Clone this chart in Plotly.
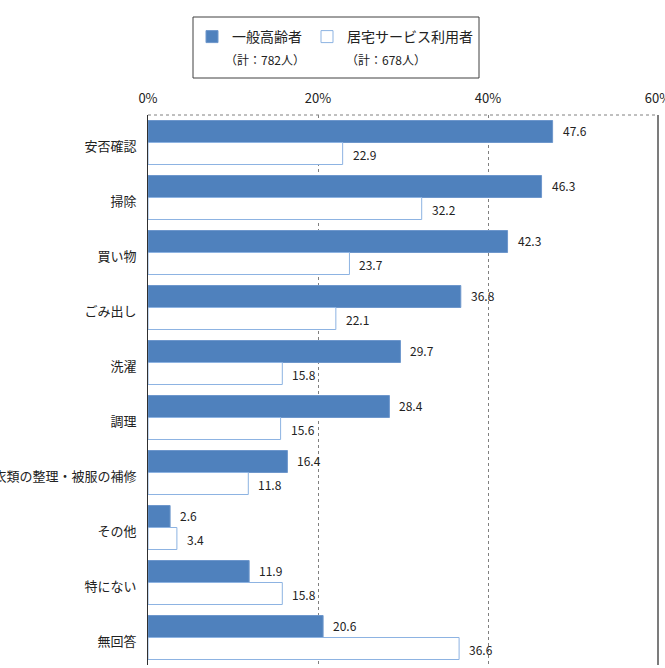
import plotly.graph_objects as go

categories = ["安否確認", "掃除", "買い物", "ごみ出し", "洗濯", "調理",
              "衣類の整理・被服の補修", "その他", "特にない", "無回答"]
general = [47.6, 46.3, 42.3, 36.8, 29.7, 28.4, 16.4, 2.6, 11.9, 20.6]
home_service = [22.9, 32.2, 23.7, 22.1, 15.8, 15.6, 11.8, 3.4, 15.8, 36.6]
series_names = ["一般高齢者", "居宅サービス利用者"]
series_counts = ["（計：782人）", "（計：678人）"]
tick_vals = [0, 20, 40, 60]
tick_text = ["0%", "20%", "40%", "60%"]

FONT = "Noto Sans CJK JP"
W, H = 665, 668
L, R, T, B = 148, 7, 115, 3

fig = go.Figure()
fig.add_trace(go.Bar(
    y=categories, x=general, orientation="h", name=series_names[0],
    marker=dict(color="#4F81BD", line=dict(color="#6E97CC", width=1)),
))
fig.add_trace(go.Bar(
    y=categories, x=home_service, orientation="h", name=series_names[1],
    marker=dict(color="#FFFFFF", line=dict(color="#8DB3E2", width=1)),
))

# data labels
for vals, shift in ((general, -0.22), (home_service, 0.22)):
    for i, (c, v) in enumerate(zip(categories, vals)):
        fig.add_annotation(
            x=v, y=i + shift, xref="x", yref="y", text=f"{v:.1f}",
            showarrow=False, xanchor="left", yanchor="middle", xshift=8,
            font=dict(family=FONT, size=12, color="#222222"),
        )

plot_w = W - L - R
plot_h = H - T - B
def px_to_paper_x(px):
    return (px - L) / plot_w
def px_to_paper_y(py):
    return (H - B - py) / plot_h

# legend subtitles
for cx, txt in zip([265, 386], series_counts):
    fig.add_annotation(
        x=px_to_paper_x(cx), y=px_to_paper_y(60), xref="paper", yref="paper",
        text=txt, showarrow=False, xanchor="center", yanchor="middle",
        font=dict(family=FONT, size=12, color="#222222"),
    )

shapes = [
    # legend box
    dict(type="rect", xref="paper", yref="paper",
         x0=px_to_paper_x(193), x1=px_to_paper_x(479),
         y0=px_to_paper_y(78), y1=px_to_paper_y(17),
         line=dict(color="#404040", width=1), fillcolor="rgba(0,0,0,0)"),
    # top border dotted
    dict(type="line", xref="paper", yref="paper", x0=0, x1=1, y0=1, y1=1,
         line=dict(color="#808080", width=1, dash="dot")),
    # right border
    dict(type="line", xref="paper", yref="paper", x0=1, x1=1, y0=0, y1=1,
         line=dict(color="#505050", width=1.5)),
]

fig.update_layout(
    width=W, height=H,
    margin=dict(l=L, r=R, t=T, b=B, autoexpand=False),
    paper_bgcolor="white", plot_bgcolor="white",
    barmode="group", bargap=0.2, bargroupgap=0,
    font=dict(family=FONT, size=13, color="#222222"),
    shapes=shapes,
    showlegend=True,
    legend=dict(
        orientation="h", x=px_to_paper_x(192), y=px_to_paper_y(37),
        xanchor="left", yanchor="middle",
        font=dict(family=FONT, size=14, color="#222222"),
        bgcolor="rgba(0,0,0,0)", borderwidth=0,
        itemclick=False, itemdoubleclick=False,
        traceorder="normal",
    ),
    xaxis=dict(
        side="top", range=[0, 60], tickvals=tick_vals, ticktext=tick_text,
        showgrid=True, gridcolor="#808080", griddash="dot", gridwidth=1,
        zeroline=False, showline=False, ticks="", ticklabelstandoff=8,
        ticklabeloverflow="allow",
        tickfont=dict(family=FONT, size=13, color="#222222"),
        automargin=False, fixedrange=True,
    ),
    yaxis=dict(
        autorange="reversed", showgrid=False, zeroline=False,
        showline=True, linecolor="#303030", linewidth=1,
        ticks="", ticklabelstandoff=8, ticklabelshift=-4,
        tickfont=dict(family=FONT, size=13, color="#222222"),
        automargin=False, fixedrange=True,
    ),
)

fig.write_html("out.html")
